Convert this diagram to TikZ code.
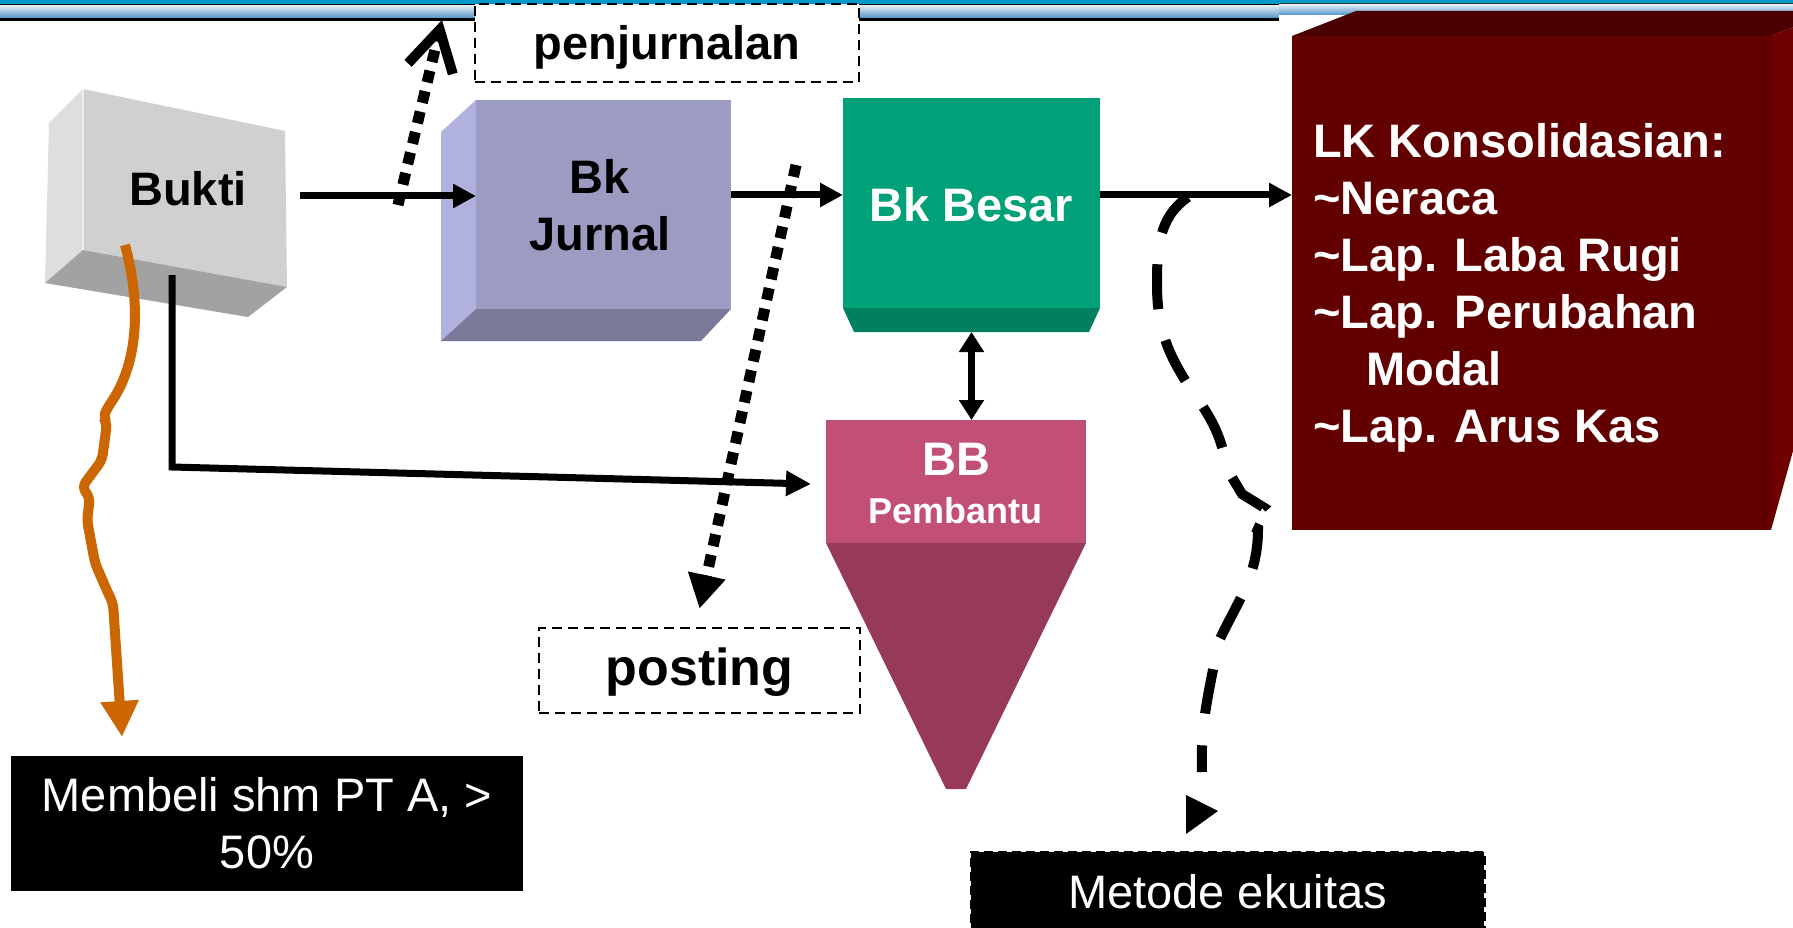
\documentclass[tikz,border=0pt]{standalone}
\usepackage{fontspec}
\setmainfont{Liberation Sans}
\usetikzlibrary{arrows.meta}
\definecolor{bukF}{HTML}{D0D0D0}
\definecolor{bukL}{HTML}{DEDEDE}
\definecolor{bukB}{HTML}{A2A2A2}
\definecolor{bjF}{HTML}{9C9CC3}
\definecolor{bjL}{HTML}{B1B1DF}
\definecolor{bjB}{HTML}{797998}
\definecolor{besF}{HTML}{00A078}
\definecolor{besB}{HTML}{00805F}
\definecolor{pinkF}{HTML}{C24F75}
\definecolor{pinkT}{HTML}{973A5A}
\definecolor{lkF}{HTML}{620000}
\definecolor{lkT}{HTML}{4A0000}
\definecolor{lkR}{HTML}{6E0000}
\definecolor{orng}{HTML}{CC6600}
\definecolor{bandblue}{HTML}{0099CC}
\definecolor{bandlight}{HTML}{E4ECF4}
\definecolor{banddark}{HTML}{5096C8}
\begin{document}
\begin{tikzpicture}[x=1pt,y=-1pt,
  face/.style={inner sep=0pt, outer sep=0pt},
  lbl/.style={inner sep=0pt, font=\fontsize{47}{57}\selectfont\bfseries},
  arr/.style={line width=7pt, -{Triangle[length=23pt,width=23pt]}},
  dotarrow/.style={line width=11pt, dash pattern=on 12pt off 9pt},
  tagbox/.style={draw=black, fill=white, line width=2.5pt, dash pattern=on 10pt off 6pt, inner sep=0pt},
  blackbox/.style={fill=black, text=white, inner sep=0pt, font=\fontsize{47}{57}\selectfont}
]
\useasboundingbox (0,0) rectangle (1793,928);
\clip (0,0) rectangle (1793,928);
\fill[white] (0,0) rectangle (1793,928);

% top band
\fill[bandblue] (0,0) rectangle (1793,4.5);
\fill[black] (0,4) rectangle (1793,5.5);
\shade[top color=bandlight, bottom color=banddark] (0,5.5) rectangle (1793,18);
\fill[black] (0,18) rectangle (1793,21);
\fill[white] (1279,0) rectangle (1793,22);
\fill[bandblue] (1279,0) rectangle (1793,3);
\fill[black!80] (1279,3) rectangle (1793,4.5);
\shade[top color=bandlight, bottom color=banddark] (1279,4.5) rectangle (1793,15);

% Bukti box
\fill[bukL] (49,123) -- (83,89) -- (83,250) -- (45,283) -- cycle;
\fill[bukF] (83,89) -- (285,131) -- (287,287) -- (83,250) -- cycle;
\fill[bukB] (83,250) -- (287,287) -- (248,317) -- (45,283) -- cycle;
\draw[white, line width=1.5pt, opacity=0.6] (83,89) -- (83,250);
\node[lbl, anchor=base] (bukti) at (188,206) {Bukti};

% Bk Jurnal box
\fill[bjL] (441,132) -- (476,100) -- (476,309) -- (441,341) -- cycle;
\fill[bjB] (476,309) -- (731,309) -- (701,341) -- (441,341) -- cycle;
\node[face, fill=bjF, minimum width=255pt, minimum height=209pt] (bkjurnal) at (603.5,204.5) {};
\node[lbl, anchor=north, align=center] (bkjurnal-t) at (600,159) {Bk\\Jurnal};

% Bk Besar box
\fill[besB] (843,308) -- (1100,308) -- (1089,332) -- (854,332) -- cycle;
\node[face, fill=besF, minimum width=257pt, minimum height=210pt] (bkbesar) at (971.5,203) {};
\node[lbl, anchor=base, text=white] (bkbesar-t) at (971,222) {Bk Besar};

% BB Pembantu
\fill[pinkT] (826,543) -- (1086,543) -- (966,789) -- (946,789) -- cycle;
\node[face, fill=pinkF, minimum width=260pt, minimum height=123pt] (bb) at (956,481.5) {};
\node[lbl, anchor=base, text=white] (bb-t) at (956,475) {BB};
\node[inner sep=0pt, anchor=base, text=white, font=\fontsize{36}{43}\selectfont\bfseries] (bb-s) at (955,523) {Pembantu};

% LK box
\fill[lkT] (1292,36) -- (1356,11) -- (1835,11) -- (1771,36) -- cycle;
\fill[lkR] (1771,36) -- (1835,11) -- (1835,300) -- (1771,530) -- cycle;
\node[face, fill=lkF, minimum width=479pt, minimum height=494pt] (lk) at (1531.5,283) {};
\node[lbl, anchor=north west, align=left, text=white] (lk-t) at (1313,123)
  {LK Konsolidasian:\\\textasciitilde Neraca\\\textasciitilde Lap. Laba Rugi\\\textasciitilde Lap. Perubahan\\\hspace*{53pt}Modal\\\textasciitilde Lap. Arus Kas};

% tag boxes
\node[tagbox, minimum width=384pt, minimum height=78pt, text height=34pt, text depth=0pt,
      font=\fontsize{47}{57}\selectfont\bfseries] (pj) at (667,43) {penjurnalan};
\node[tagbox, minimum width=321pt, minimum height=85pt, text height=29pt, text depth=0pt,
      font=\fontsize{52}{62}\selectfont\bfseries] (posting) at (699.5,670.5) {posting};
\node[blackbox, minimum width=512pt, minimum height=135pt, align=center] (membeli) at (267,823.5) {Membeli shm PT A, >\\50\%};
\node[blackbox, draw=black, line width=3pt, dash pattern=on 9pt off 5pt, minimum width=513pt, minimum height=88pt,
      text height=24pt, text depth=0pt] (metode) at (1227.5,896) {Metode ekuitas};

% coordinates
\coordinate (row) at (0,195);
\coordinate (bukti-out) at (300,196);
\coordinate (bukti-down) at (172,275);
\coordinate (elbow) at (172,467);
\coordinate (bkbesar-bot) at ([yshift=-24pt]bkbesar.south);
\coordinate (pj-from) at (398,205);
\coordinate (pj-to) at (442,20);
\coordinate (post-from) at (796,165);
\coordinate (or-from) at (125,245);
\coordinate (or-to) at (122,737);
\coordinate (me-from) at (1188,197);
\coordinate (me-to) at (1202,772);

% solid connectors
\draw[arr] (bukti-out) -- (bukti-out -| bkjurnal.west);
\draw[arr] (bkjurnal.east |- row) -- (bkbesar.west |- row);
\draw[arr] (bkbesar.east |- row) -- (lk.west |- row);
\draw[line width=6.5pt, {Triangle[length=20pt,width=24pt]}-{Triangle[length=20pt,width=24pt]}]
  (bkbesar-bot) -- (bkbesar-bot |- bb.north);
\draw[line width=7pt, -{Triangle[length=25pt,width=24pt]}]
  (bukti-down) -- (elbow) -- ([xshift=-15pt,yshift=-2.5pt]bb.west);

% orange connector
\draw[line width=10pt, orng, rounded corners=6pt, -{Triangle[length=36pt,width=36pt]}]
  (or-from) .. controls (140,300) and (140,360) .. (108,407) -- (103,417) -- (107,423) -- (102,460)
  -- (82,487) -- (90,498) -- (87,520) -- (95,563) -- (108,593) -- (113,603) -- (or-to);

% dotted connectors
\draw[dotarrow, -{Straight Barb[length=40pt,width=46pt,line width=10pt]}] (pj-from) -- (pj-to);
\draw[dotarrow, -{Triangle[length=34pt,width=36pt]}] (post-from) -- ([yshift=18pt]posting.north);

% dashed connector to Metode ekuitas
\draw[line width=10pt, dash pattern=on 45pt off 32pt]
  (me-from) to[out=215,in=90] (1157,285) to[out=-90,in=125] (1197,398)
  to[out=-55,in=100] (1227,469) -- (1242,494) -- (1263,507) -- (1245,523) -- (1258,529)
  to[out=-90,in=65] (1218,643) to[out=-100,in=92] (me-to);
\fill[black] (1186,795) -- (1218,811) -- (1186,834) -- cycle;
\end{tikzpicture}
\end{document}
